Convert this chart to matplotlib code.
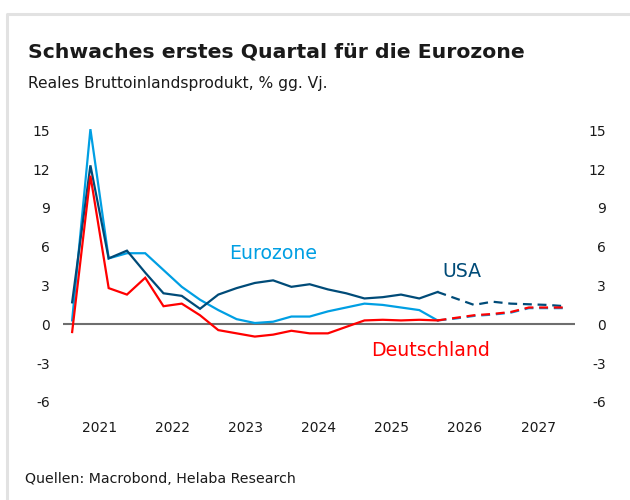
import matplotlib
matplotlib.use("Agg")
import matplotlib.pyplot as plt
from matplotlib.lines import Line2D

# Quartale 2021Q1 .. 2027Q4, Ist-Werte bis 2026Q1, danach Prognose
quarters = [f"{y}Q{q}" for y in range(2021, 2028) for q in range(1, 5)]
n_actual = 21  # bis einschl. 2026Q1

eurozone = [0.3, 15.1, 5.1, 5.5,
            5.5, 4.2, 2.9, 1.9,
            1.1, 0.4, 0.1, 0.2,
            0.6, 0.6, 1.0, 1.3,
            1.6, 1.5, 1.3, 1.1,
            0.3, 0.45, 0.65, 0.75,
            0.9, 1.25, 1.25, 1.25]
usa = [1.7, 12.3, 5.1, 5.7,
       4.0, 2.4, 2.2, 1.2,
       2.3, 2.8, 3.2, 3.4,
       2.9, 3.1, 2.7, 2.4,
       2.0, 2.1, 2.3, 2.0,
       2.5, 2.0, 1.5, 1.75,
       1.6, 1.55, 1.5, 1.4]
deutschland = [-0.6, 11.5, 2.8, 2.3,
               3.6, 1.4, 1.6, 0.7,
               -0.45, -0.7, -0.95, -0.8,
               -0.5, -0.7, -0.7, -0.2,
               0.3, 0.35, 0.3, 0.35,
               0.3, 0.5, 0.7, 0.8,
               0.95, 1.3, 1.3, 1.3]

years = [2021, 2022, 2023, 2024, 2025, 2026, 2027]
yticks = [15, 12, 9, 6, 3, 0, -3, -6]

C_EZ = '#009fe3'
C_US = '#004b78'
C_DE = '#ff0000'
C_TXT = '#1a1a1a'

plt.rcParams['font.family'] = ['DejaVu Sans']

# Quartalsmitte als Dezimaljahr
x = [int(s[:4]) + (int(s[-1]) - 0.5) / 4 for s in quarters]

fig = plt.figure(figsize=(6.3, 5.0), dpi=100)
ax = fig.add_axes([0.1, 0.1834, 0.812, 0.5686])

ax.axhline(0, color='#6e6e6e', lw=1.5, zorder=1)

for vals, col in [(eurozone, C_EZ), (usa, C_US), (deutschland, C_DE)]:
    ax.plot(x[:n_actual], vals[:n_actual], color=col, lw=1.6,
            solid_joinstyle='miter', zorder=3)
    ax.plot(x[n_actual - 1:], vals[n_actual - 1:], color=col, lw=1.6,
            dashes=(4, 2.6), zorder=3)

ax.text(2023.27, 5.5, 'Eurozone', color=C_EZ, fontsize=13.6,
        ha='left', va='center')
ax.text(2026.19, 4.05, 'USA', color=C_US, fontsize=13.6,
        ha='left', va='center')
ax.text(2025.22, -2.0, 'Deutschland', color=C_DE, fontsize=13.6,
        ha='left', va='center')

ax.set_xlim(2021.0, 2028.0)
ax.set_ylim(-6.5, 15.5)
ax.set_xticks([y + 0.5 for y in years])
ax.set_xticklabels([str(y) for y in years])
ax.set_yticks(yticks)
ax.set_yticklabels([str(t) for t in yticks])
ax.tick_params(axis='both', length=0, labelsize=10, colors=C_TXT)
ax.tick_params(axis='x', pad=9)
ax.tick_params(axis='y', pad=9.5)

ax2 = ax.twinx()
ax2.set_ylim(ax.get_ylim())
ax2.set_yticks(yticks)
ax2.set_yticklabels([str(t) for t in yticks])
ax2.tick_params(axis='y', length=0, labelsize=10, colors=C_TXT, pad=22.5)
for lab in ax2.get_yticklabels():
    lab.set_horizontalalignment('right')

for a in (ax, ax2):
    for s in a.spines.values():
        s.set_visible(False)

# Rahmen oben/links
fig.add_artist(Line2D([7 / 630, 7 / 630, 1.0], [0.0, 1 - 14 / 500, 1 - 14 / 500],
                      transform=fig.transFigure, color='#e2e2e2', lw=2.2))

fig.text(28 / 630, 1 - 57 / 500, 'Schwaches erstes Quartal für die Eurozone',
         fontsize=14.7, fontweight='bold', color=C_TXT, va='baseline')
fig.text(28 / 630, 1 - 88 / 500, 'Reales Bruttoinlandsprodukt, % gg. Vj.',
         fontsize=11.2, color=C_TXT, va='baseline')
fig.text(25 / 630, 1 - 483 / 500, 'Quellen: Macrobond, Helaba Research',
         fontsize=10.2, color=C_TXT, va='baseline')

fig.savefig('out.png', dpi=100, facecolor='white')
